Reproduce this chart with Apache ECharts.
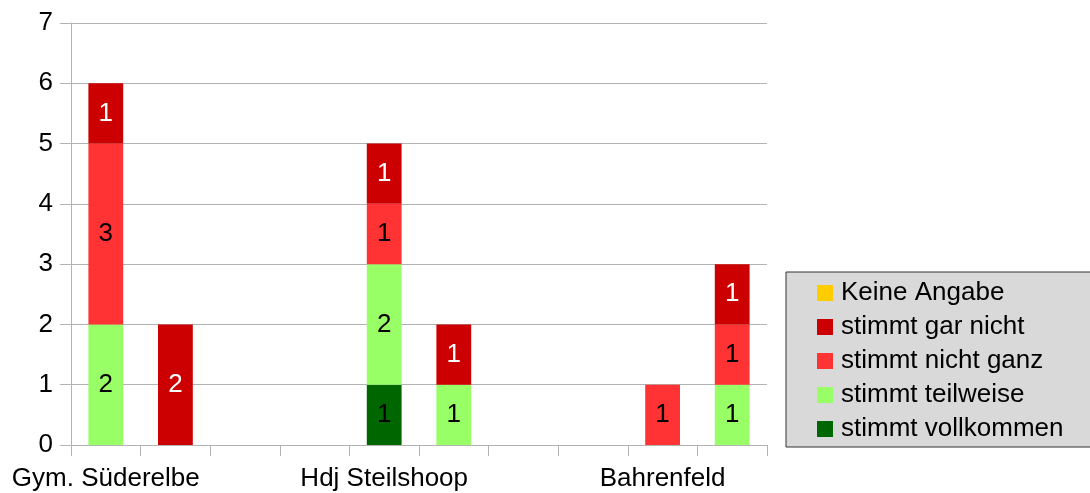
<!DOCTYPE html>
<html>
<head>
<meta charset="utf-8">
<script src="https://cdn.jsdelivr.net/npm/echarts@6/dist/echarts.min.js"></script>
<style>
  html, body { margin: 0; padding: 0; background: #fff; }
  #main { width: 1090px; height: 493px; }
</style>
</head>
<body>
<div id="main"></div>
<script type="text/javascript">
    // Kategorien (leere Plätze zwischen den Gruppen)
    var categories = ['Gym. Süderelbe', '', '', '', 'Hdj Steilshoop', '', '', '', 'Bahrenfeld', ''];
    var yTicks = [0, 1, 2, 3, 4, 5, 6, 7];

    var keineAngabe      = [null, null, null, null, null, null, null, null, null, null];
    var garNicht         = [1, 2, null, null, 1, 1, null, null, null, 1];
    var nichtGanz        = [3, null, null, null, 1, null, null, null, 1, 1];
    var teilweise        = [2, null, null, null, 2, 1, null, null, null, 1];
    var vollkommen       = [null, null, null, null, 1, null, null, null, null, null];

    var font = 'Liberation Sans';
    var fs = 26;
    var myChart = echarts.init(document.getElementById('main'));

    function mkSeries(name, data, color, labelColor) {
        return {
            name: name,
            type: 'bar',
            stack: 'all',
            barWidth: '50%',
            data: data,
            itemStyle: { color: color },
            label: {
                show: true,
                position: 'inside',
                color: labelColor,
                fontFamily: font,
                fontSize: fs
            }
        };
    }

    var option = {
        animation: false,
        grid: { left: 71, right: 323, top: 23, bottom: 48 },
        legend: {
            orient: 'vertical',
            left: 786,
            top: 272,
            data: ['Keine Angabe', 'stimmt gar nicht', 'stimmt nicht ganz', 'stimmt teilweise', 'stimmt vollkommen'],
            backgroundColor: '#d9d9d9',
            borderColor: '#333333',
            borderWidth: 1,
            borderRadius: 0,
            padding: [8, 40, 5, 31],
            itemWidth: 16,
            itemHeight: 16,
            itemGap: 8,
            icon: 'rect',
            textStyle: { fontFamily: font, fontSize: fs, lineHeight: 26, color: '#000', padding: [0, 0, 0, 3] }
        },
        xAxis: {
            type: 'category',
            data: categories,
            boundaryGap: true,
            axisLine: { lineStyle: { color: '#b3b3b3', width: 1 } },
            axisTick: { show: true, interval: 0, length: 11, lineStyle: { color: '#b3b3b3' } },
            axisLabel: { interval: 0, margin: 21, color: '#000', fontFamily: font, fontSize: fs },
            splitLine: { show: false }
        },
        yAxis: {
            type: 'value',
            min: yTicks[0],
            max: yTicks[yTicks.length - 1],
            interval: 1,
            axisLine: { show: true, lineStyle: { color: '#b3b3b3', width: 1 } },
            axisTick: { show: true, length: 11, lineStyle: { color: '#b3b3b3' } },
            axisLabel: { margin: 18, color: '#000', fontFamily: font, fontSize: fs },
            splitLine: { show: true, lineStyle: { color: '#b3b3b3', width: 1 } }
        },
        series: [
            mkSeries('stimmt vollkommen', vollkommen, '#006600', '#000'),
            mkSeries('stimmt teilweise', teilweise, '#99ff66', '#000'),
            mkSeries('stimmt nicht ganz', nichtGanz, '#ff3333', '#000'),
            mkSeries('stimmt gar nicht', garNicht, '#cc0000', '#fff'),
            mkSeries('Keine Angabe', keineAngabe, '#ffcc00', '#000')
        ]
    };
    myChart.setOption(option);
</script>
</body>
</html>
